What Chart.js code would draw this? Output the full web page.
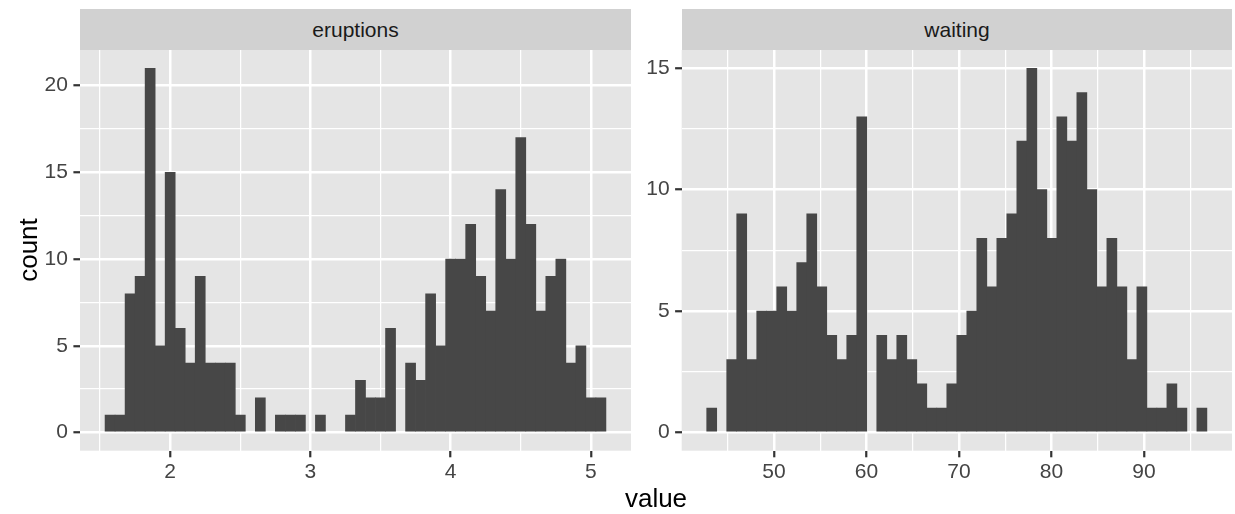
<!DOCTYPE html>
<html>
<head>
<meta charset="utf-8">
<script src="https://cdn.jsdelivr.net/npm/chart.js@4.4.1/dist/chart.umd.min.js"></script>
<style>
  body { margin: 0; background: #fff; width: 1235px; height: 514px; position: relative; overflow: hidden;
         font-family: "Liberation Sans", Arial, sans-serif; }
  canvas { position: absolute; top: 0; }
  .strip { position: absolute; top: 9px; height: 41px; background: #D1D1D1; color: #1A1A1A;
           font-size: 21px; line-height: 41px; text-align: center; }
  #xtitle { position: absolute; left: 80px; width: 1152px; top: 484.7px; font-size: 26px; line-height: 26px;
            text-align: center; color: #000; }
  #ytitle { position: absolute; left: -172px; width: 400px; top: 237px; font-size: 26px; line-height: 26px;
            text-align: center; color: #000; transform: rotate(-90deg); }
</style>
</head>
<body>
<div class="strip" style="left:80px;width:551px">eruptions</div>
<div class="strip" style="left:682px;width:550px">waiting</div>
<canvas id="eruptionsChart" width="640" height="514" style="left:0;width:640px;height:514px"></canvas>
<canvas id="waitingChart" width="595" height="514" style="left:640px;width:595px;height:514px"></canvas>
<div id="ytitle">count</div>
<div id="xtitle">value</div>
<script>
// histogram bins (50 bins per panel)
const eruptionsBinStart = 1.5357;
const eruptionsBinWidth = 0.07143;
const eruptionsCounts = [1, 1, 8, 9, 21, 5, 15, 6, 4, 9, 4, 4, 4, 1, 0, 2, 0, 1, 1, 1, 0, 1, 0, 0, 1,
                         3, 2, 2, 6, 0, 4, 3, 8, 5, 10, 10, 12, 9, 7, 14, 10, 17, 12, 7, 9, 10, 4, 5, 2, 2];

const waitingBinStart = 42.7245;
const waitingBinWidth = 1.08163;
const waitingCounts = [1, 0, 3, 9, 3, 5, 5, 6, 5, 7, 9, 6, 4, 3, 4, 13, 0, 4, 3, 4, 3, 2, 1, 1, 2,
                       4, 5, 8, 6, 8, 9, 12, 15, 10, 8, 13, 12, 14, 10, 6, 8, 6, 3, 6, 1, 1, 2, 1, 0, 1];

// tick labels and minor grid positions
const eruptionsTicks = [2, 3, 4, 5];
const eruptionsMinor = [1.5, 2.5, 3.5, 4.5];
const eruptionsCountTicks = [0, 5, 10, 15, 20];
const eruptionsCountMinor = [2.5, 7.5, 12.5, 17.5];

const waitingTicks = [50, 60, 70, 80, 90];
const waitingMinor = [45, 55, 65, 75, 85, 95];
const waitingCountTicks = [0, 5, 10, 15];
const waitingCountMinor = [2.5, 7.5, 12.5];

const FONT = '"Liberation Sans", Arial, sans-serif';

// grey panel background behind the grid
const panelBg = {
    id: 'panelBg',
    beforeDraw(chart) {
        const { ctx, chartArea: a } = chart;
        ctx.save();
        ctx.fillStyle = '#E5E5E5';
        ctx.fillRect(a.left, a.top, a.right - a.left, a.bottom - a.top);
        ctx.restore();
    }
};

function axisOpts(major, minor, range, fit, isX) {
    const isMajor = ctx => ctx.tick && major.includes(ctx.tick.value);
    return {
        type: 'linear',
        min: range[0],
        max: range[1],
        offset: false,
        border: { display: false },
        afterBuildTicks: scale => {
            scale.ticks = major.concat(minor).sort((a, b) => a - b).map(v => ({ value: v }));
        },
        afterFit: fit,
        grid: {
            offset: false,
            color: '#FFFFFF',
            lineWidth: ctx => isMajor(ctx) ? 2.5 : 1.25,
            tickColor: ctx => isMajor(ctx) ? '#333333' : 'rgba(0,0,0,0)',
            tickWidth: 2.2,
            tickLength: 6.6
        },
        ticks: {
            autoSkip: false,
            maxRotation: 0,
            padding: isX ? 2 : 5.5,
            color: '#444444',
            font: { family: FONT, size: 21 },
            callback: v => major.includes(v) ? String(v) : ''
        }
    };
}

function makePanel(id, cfg) {
    const points = cfg.counts.map((c, i) => ({ x: cfg.binStart + (i + 0.5) * cfg.binWidth, y: c }));
    return new Chart(document.getElementById(id), {
        type: 'bar',
        data: {
            datasets: [{
                data: points,
                backgroundColor: ctx => (ctx.raw && ctx.raw.y > 0) ? '#474747' : 'rgba(0,0,0,0)',
                borderWidth: 0,
                barPercentage: 1.0,
                categoryPercentage: 1.0
            }]
        },
        options: {
            responsive: false,
            animation: false,
            devicePixelRatio: 1,
            layout: { padding: { top: 50, right: cfg.padRight, left: 0, bottom: 0 } },
            plugins: { legend: { display: false }, tooltip: { enabled: false } },
            scales: {
                x: axisOpts(cfg.xMajor, cfg.xMinor, cfg.xRange, s => { s.height = 63.3; }, true),
                y: axisOpts(cfg.yMajor, cfg.yMinor, cfg.yRange, s => { s.width = cfg.yAxisWidth; }, false)
            }
        },
        plugins: [panelBg]
    });
}

makePanel('eruptionsChart', {
    counts: eruptionsCounts, binStart: eruptionsBinStart, binWidth: eruptionsBinWidth,
    xMajor: eruptionsTicks, xMinor: eruptionsMinor, yMajor: eruptionsCountTicks, yMinor: eruptionsCountMinor,
    xRange: [1.357, 5.286], yRange: [-1.05, 22.05], yAxisWidth: 80, padRight: 9
});

makePanel('waitingChart', {
    counts: waitingCounts, binStart: waitingBinStart, binWidth: waitingBinWidth,
    xMajor: waitingTicks, xMinor: waitingMinor, yMajor: waitingCountTicks, yMinor: waitingCountMinor,
    xRange: [40.02, 99.52], yRange: [-0.75, 15.75], yAxisWidth: 41.7, padRight: 3
});
</script>
</body>
</html>
